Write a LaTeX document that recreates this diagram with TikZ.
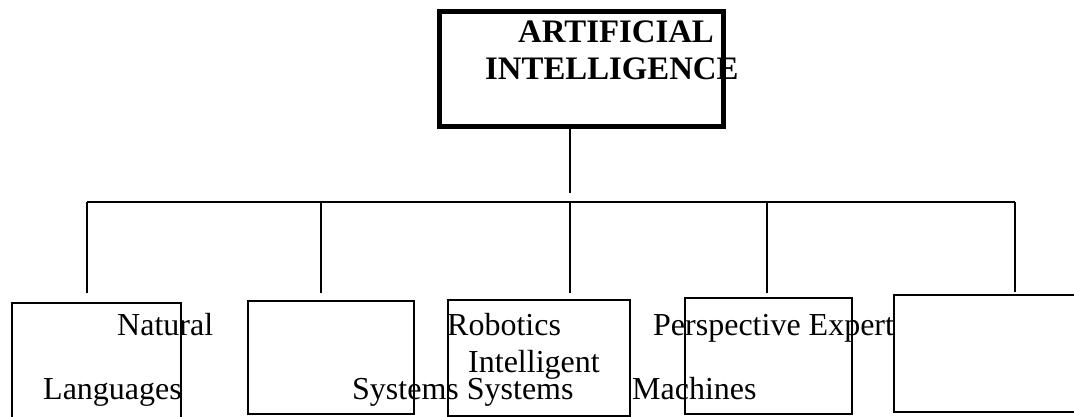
\documentclass[tikz,border=0pt]{standalone}
\usepackage{fontspec}
\setmainfont{Liberation Serif}
\begin{document}
\begin{tikzpicture}[x=1pt,y=-1pt,
  box/.style={draw,line width=1.6pt,inner sep=0pt,anchor=north west},
  topbox/.style={draw,line width=5pt,inner sep=0pt,anchor=north west},
  conn/.style={line width=1.6pt},
  lbl/.style={anchor=base west,inner sep=0pt,font=\fontsize{32}{38}\selectfont},
  blbl/.style={anchor=base west,inner sep=0pt,font=\fontsize{32.8}{39}\selectfont\bfseries}]
\useasboundingbox (0,0) rectangle (1074,417);
\clip (0,0) rectangle (1074,417);
% top box
\node[topbox,minimum width=284pt,minimum height=115pt] (ai) at (437,9) {};
\node[blbl] (t1) at (518,43) {ARTIFICIAL};
\node[blbl] (t2) at (485,80) {INTELLIGENCE};
% lower boxes
\node[box,minimum width=169pt,minimum height=130pt] (b1) at (11,302) {};
\node[box,minimum width=166pt,minimum height=113pt] (b2) at (247,300) {};
\node[box,minimum width=182pt,minimum height=116pt] (b3) at (447,299) {};
\node[box,minimum width=167pt,minimum height=116pt] (b4) at (684,297) {};
\node[box,minimum width=200pt,minimum height=117pt] (b5) at (893,294) {};
% connector coordinates
\coordinate (aiend) at (570,193);
\coordinate (h0) at (87,202);
\coordinate (h1) at (321,202);
\coordinate (h2) at (570,202);
\coordinate (h3) at (767,202);
\coordinate (h4) at (1015,202);
\coordinate (e0) at (87,293);
\coordinate (e1) at (321,293);
\coordinate (e2) at (570,293);
\coordinate (e3) at (767,293);
\coordinate (e4) at (1015,292);
\draw[conn] (ai.south -| aiend) -- (aiend);
\draw[conn] (h0) -- (h4);
\draw[conn] (h0) -- (e0);
\draw[conn] (h1) -- (e1);
\draw[conn] (h2) -- (e2);
\draw[conn] (h3) -- (e3);
\draw[conn] (h4) -- (e4);
% labels
\node[lbl] (n1) at (117,335) {Natural};
\node[lbl] (n2) at (43,399) {Languages};
\node[lbl] (n3) at (352,399) {Systems Systems};
\node[lbl] (n4) at (447,335) {Robotics};
\node[lbl] (n5) at (468,372) {Intelligent};
\node[lbl] (n6) at (653,335) {Perspective Expert};
\node[lbl] (n7) at (632,399) {Machines};
\end{tikzpicture}
\end{document}
